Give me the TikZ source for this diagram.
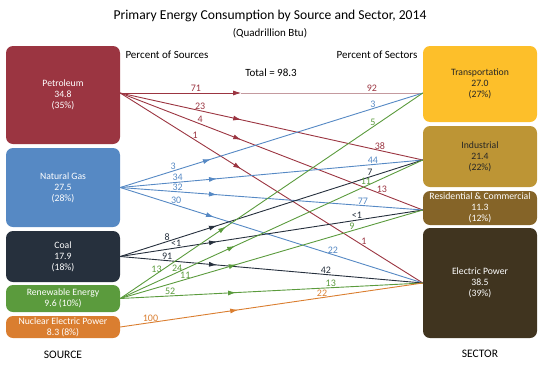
\documentclass[tikz,border=0pt]{standalone}
\usepackage{fontspec}
\setmainfont{Carlito}
\usetikzlibrary{arrows.meta,decorations.markings,calc}
\definecolor{petRed}{HTML}{9B3541}
\definecolor{petPale}{HTML}{C49A9F}
\definecolor{gasBlue}{HTML}{5689C4}
\definecolor{coalNavy}{HTML}{26303D}
\definecolor{renGreen}{HTML}{5B9B3D}
\definecolor{nucOrange}{HTML}{DA7E30}
\definecolor{trYellow}{HTML}{FDBF2A}
\definecolor{indGold}{HTML}{BD9535}
\definecolor{resBrown}{HTML}{856428}
\definecolor{elecBrown}{HTML}{40341F}

\begin{document}
\begin{tikzpicture}[
    x=1pt, y=-1pt,
    font=\fontsize{9.7}{11}\selectfont,
    >={Latex[length=8pt,width=5pt]},
    srcbox/.style={rounded corners=7pt, minimum width=114pt, inner sep=0pt, align=center, text=white},
    secbox/.style={srcbox},
    flowline/.style 2 args={color=#1, line width=0.9pt, decoration={markings, mark=at position #2 with {\arrow{Latex[length=8pt,width=5pt]}}}, postaction={decorate}},
    pct/.style={text=#1, font=\fontsize{10}{10}\selectfont, inner sep=0.8pt, anchor=south},
    head/.style={font=\fontsize{11}{12}\selectfont, text=black}
  ]
    \useasboundingbox (0,0) rectangle (545,375);

    % titles
    \node[font=\fontsize{13.6}{15}\selectfont, text=black] (title) at (270,16) {Primary Energy Consumption by Source and Sector, 2014};
    \node[head] (unit) at (270,33) {(Quadrillion Btu)};
    \node[head] (srcHead) at (167,55) {Percent of Sources};
    \node[head] (secHead) at (377,55) {Percent of Sectors};
    \node[head] (total) at (271,73) {Total = 98.3};

    % sources
    \node[srcbox, fill=petRed, minimum height=98pt] (pet) at (63,95) {Petroleum\\34.8\\(35\%)};
    \node[srcbox, fill=gasBlue, minimum height=79pt] (gas) at (63,187.5) {Natural Gas\\27.5\\(28\%)};
    \node[srcbox, fill=coalNavy, minimum height=51pt] (coal) at (63,256.5) {Coal\\17.9\\(18\%)};
    \node[srcbox, fill=renGreen, minimum height=27pt] (ren) at (63,298.5) {Renewable Energy\\9.6 (10\%)};
    \node[srcbox, fill=nucOrange, minimum height=22pt] (nuc) at (63,327) {Nuclear Electric Power\\8.3 (8\%)};
    \node[head, font=\fontsize{11.5}{12}\selectfont] (srcLab) at (63,355) {SOURCE};

    % sectors
    \node[secbox, fill=trYellow, text=black!85, minimum height=76pt] (tr) at (480,84) {Transportation\\27.0\\(27\%)};
    \node[secbox, fill=indGold, text=black!85, minimum height=61pt] (ind) at (480,156.5) {Industrial\\21.4\\(22\%)};
    \node[secbox, fill=resBrown, minimum height=34pt] (res) at (480,208) {Residential \& Commercial\\11.3\\(12\%)};
    \node[secbox, fill=elecBrown, minimum height=110pt] (elec) at (480,283) {Electric Power\\38.5\\(39\%)};
    \node[head, font=\fontsize{11.5}{12}\selectfont] (secLab) at (480,354) {SECTOR};

    \coordinate (petOut) at ([yshift=2pt]pet.east);
    \coordinate (trIn) at (tr.west |- petOut);
    \coordinate (indIn) at ([yshift=-3.5pt]ind.west);
    \coordinate (resIn) at ([yshift=-2pt]res.west);
    \coordinate (petMid) at ($(petOut)!0.4!(trIn)$);

    % petroleum
    \draw[->, petRed, line width=0.9pt] (petOut) -- node[pct=petRed, pos=0.625] {71} (petMid);
    \draw[petPale, line width=0.9pt] (petMid) -- node[pct=petRed, pos=0.72] {92} (trIn);
    \draw[flowline={petRed}{0.4}] (petOut) -- node[pct=petRed, pos=0.264] {23} node[pct=petRed, pos=0.858] {38} (indIn);
    \draw[flowline={petRed}{0.4}] (petOut) -- node[pct=petRed, pos=0.264] {4} node[pct=petRed, pos=0.865] {13} (resIn);
    \draw[flowline={petRed}{0.4}] (petOut) -- node[pct=petRed, pos=0.248] {1} node[pct=petRed, pos=0.805] {1} (elec.west);

    % natural gas
    \draw[flowline={gasBlue}{0.3}] (gas.east) -- node[pct=gasBlue, pos=0.175] {3} node[pct=gasBlue, pos=0.835] {3} (trIn);
    \draw[flowline={gasBlue}{0.32}] (gas.east) -- node[pct=gasBlue, pos=0.19] {34} node[pct=gasBlue, pos=0.835] {44} (indIn);
    \draw[flowline={gasBlue}{0.32}] (gas.east) -- node[pct=gasBlue, pos=0.19] {32} node[pct=gasBlue, pos=0.802] {77} (resIn);
    \draw[flowline={gasBlue}{0.31}] (gas.east) -- node[pct=gasBlue, pos=0.185] {30} node[pct=gasBlue, pos=0.703] {22} (elec.west);

    % coal
    \draw[flowline={coalNavy}{0.32}] (coal.east) -- node[pct=coalNavy, pos=0.155] {8} node[pct=coalNavy, pos=0.825] {7} (indIn);
    \draw[flowline={coalNavy}{0.32}] (coal.east) -- node[pct=coalNavy, pos=0.185] {<1} node[pct=coalNavy, pos=0.782] {<1} (resIn);
    \draw[flowline={coalNavy}{0.32}] (coal.east) -- node[pct=coalNavy, pos=0.155] {91} node[pct=coalNavy, pos=0.68] {42} (elec.west);

    % renewable energy
    \draw[flowline={renGreen}{0.35}] (ren.east) -- node[pct=renGreen, pos=0.12] {13} node[pct=renGreen, pos=0.835] {5} (trIn);
    \draw[flowline={renGreen}{0.38}] (ren.east) -- node[pct=renGreen, pos=0.188] {24} node[pct=renGreen, pos=0.812] {11} (indIn);
    \draw[flowline={renGreen}{0.385}] (ren.east) -- node[pct=renGreen, pos=0.215] {11} node[pct=renGreen, pos=0.766] {9} (resIn);
    \draw[flowline={renGreen}{0.383}] (ren.east) -- node[pct=renGreen, pos=0.165] {52} node[pct=renGreen, pos=0.696] {13} (elec.west);

    % nuclear
    \draw[flowline={nucOrange}{0.39}] (nuc.east) -- node[pct=nucOrange, pos=0.1] {100} node[pct=nucOrange, pos=0.667] {22} (elec.west);
  \end{tikzpicture}
\end{document}
